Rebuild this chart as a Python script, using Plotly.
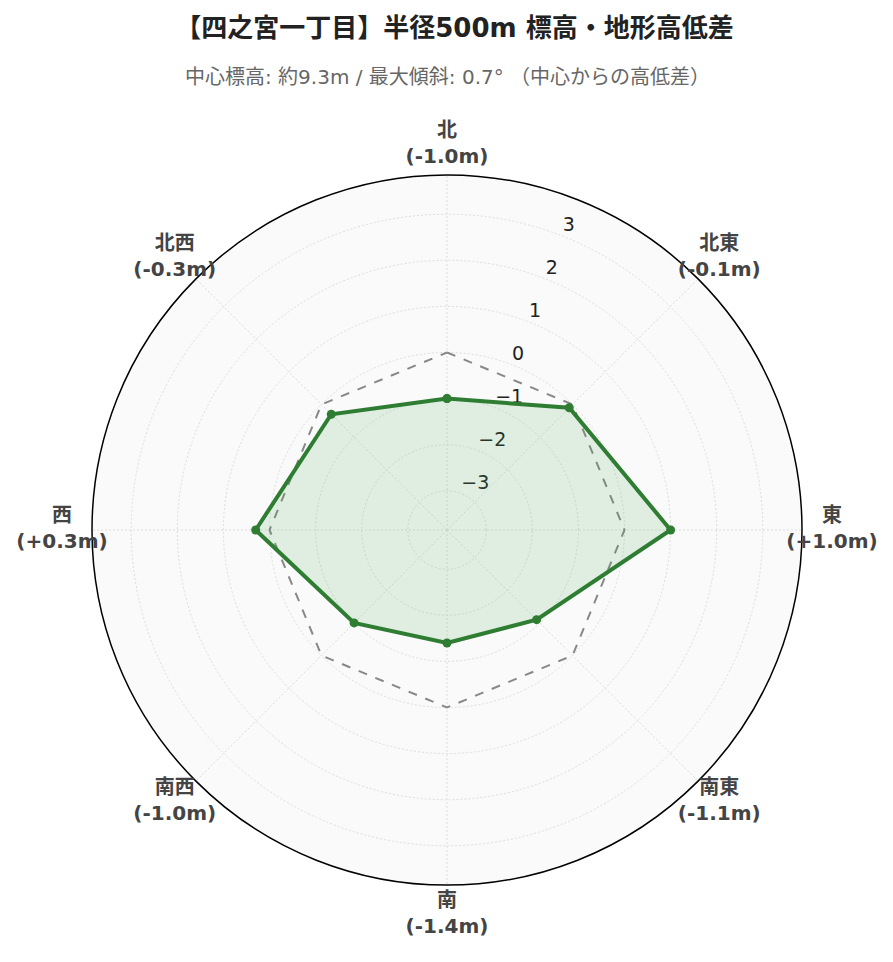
import plotly.graph_objects as go

directions = ["北", "北東", "東", "南東", "南", "南西", "西", "北西"]
angles = [0, 45, 90, 135, 180, 225, 270, 315]
diffs = [-1.0, -0.1, 1.0, -1.1, -1.4, -1.0, 0.3, -0.3]
baseline = [0, 0, 0, 0, 0, 0, 0, 0]
radial_ticks = [-3, -2, -1, 0, 1, 2, 3]
radial_tick_text = ["−3", "−2", "−1", "0", "1", "2", "3"]
r_min, r_max = -3.85, 3.85
label_r = 4.5          # radial position of the direction labels
tick_label_theta = 21.5  # direction along which the radial tick labels sit

label_text = [f"<b>{d}<br>({'+' if v > 0 else ''}{v:.1f}m)</b>" for d, v in zip(directions, diffs)]
font_family = "DejaVu Sans, Noto Sans CJK JP, sans-serif"

# plot-area geometry (770 px square); inner polar uses a 710 px square
W, H = 893, 962
ml, mr, mt, mb = 54, 69, 137, 55
pad = 30 / 770

theta_closed = angles + angles[:1]
fig = go.Figure()
# radial tick labels (drawn under the data, as in the reference)
fig.add_trace(go.Scatterpolar(
    r=radial_ticks, theta=[tick_label_theta] * len(radial_ticks), mode="text",
    text=radial_tick_text, textposition="top right",
    textfont=dict(size=19, color="#222222", family=font_family),
    hoverinfo="skip", showlegend=False, subplot="polar",
))
fig.add_trace(go.Scatterpolar(
    r=baseline + baseline[:1], theta=theta_closed, mode="lines",
    line=dict(color="#888888", width=2, dash="dash"),
    hoverinfo="skip", showlegend=False, subplot="polar",
))
fig.add_trace(go.Scatterpolar(
    r=diffs + diffs[:1], theta=theta_closed, mode="lines+markers",
    line=dict(color="#2e7d32", width=4),
    marker=dict(size=9, color="#2e7d32"),
    fill="toself", fillcolor="rgba(76,175,80,0.15)",
    showlegend=False, subplot="polar",
))
# direction labels on an overlay polar with the same scale
fig.add_trace(go.Scatterpolar(
    r=[label_r] * len(angles), theta=angles, mode="text",
    text=label_text, textposition="middle center",
    textfont=dict(size=20, color="#444444", family=font_family),
    cliponaxis=False, hoverinfo="skip", showlegend=False, subplot="polar2",
))

fig.update_layout(
    width=W, height=H,
    paper_bgcolor="white",
    font=dict(family=font_family),
    margin=dict(l=ml, r=mr, t=mt, b=mb),
    title=dict(text="<b>【四之宮一丁目】半径500m 標高・地形高低差</b>",
               x=0.5, xanchor="center", y=1 - 20 / H, yanchor="middle",
               font=dict(size=26, color="#222222", family=font_family)),
    annotations=[dict(text="中心標高: 約9.3m / 最大傾斜: 0.7° （中心からの高低差）",
                      x=0.5, y=1 + 68 / 770, xref="paper", yref="paper",
                      yanchor="middle", showarrow=False,
                      font=dict(size=20, color="#666666", family=font_family))],
    polar=dict(
        domain=dict(x=[pad, 1 - pad], y=[pad, 1 - pad]),
        bgcolor="#fafafa",
        angularaxis=dict(
            direction="clockwise", rotation=90,
            tickmode="array", tickvals=angles, showticklabels=False,
            showline=True, linecolor="black", linewidth=1.5,
            gridcolor="#dddddd", griddash="2px,2px", ticks="",
        ),
        radialaxis=dict(
            range=[r_min, r_max], angle=67.5,
            tickmode="array", tickvals=radial_ticks, showticklabels=False,
            showline=False, ticks="",
            gridcolor="#dddddd", griddash="2px,2px",
        ),
    ),
    polar2=dict(
        domain=dict(x=[0, 1], y=[0, 1]),
        bgcolor="rgba(0,0,0,0)",
        angularaxis=dict(direction="clockwise", rotation=90, visible=False,
                         showgrid=False, showline=False, showticklabels=False, ticks=""),
        radialaxis=dict(range=[r_min, label_r], visible=False,
                        showgrid=False, showline=False, showticklabels=False, ticks=""),
    ),
)
fig.write_html("out.html")
